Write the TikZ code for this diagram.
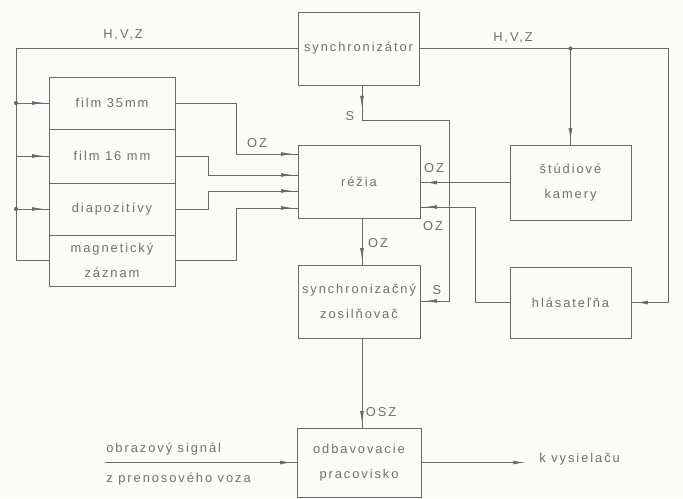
\documentclass[tikz,border=0pt]{standalone}
\usepackage{fontspec}
\newfontfamily\technicke[LetterSpace=15]{Liberation Sans}
\usepackage{tikz}
\usetikzlibrary{arrows.meta,decorations.markings}
\definecolor{ciara}{HTML}{6A6A6A}
\definecolor{pismo}{HTML}{707070}
\definecolor{papier}{HTML}{FBFBF9}
\tikzset{hrot/.tip={Latex[length=10pt,width=3.2pt]}}

\begin{document}
\begin{tikzpicture}[x=0.03cm, y=-0.03cm,
  blok/.style={draw=ciara, line width=0.7pt, inner sep=0pt,
    minimum width=3.66cm, minimum height=2.2cm, align=center,
    text=pismo, font=\technicke\fontsize{11}{21}\selectfont},
  spoj/.style={ciara, line width=0.7pt},
  sipka/.style={spoj, postaction={decorate},
    decoration={markings, mark=at position -4pt with {\arrow{hrot}}}},
  popis/.style={text=pismo, font=\technicke\fontsize{11}{13}\selectfont, inner sep=1pt}
]
  \useasboundingbox (0,0) rectangle (683,498);
  \fill[papier] (0,0) rectangle (683,498);

  % bloky
  \node[blok, minimum width=3.63cm, minimum height=2.19cm] (sync) at (358.5,48.5) {synchronizátor};
  \node[blok] (rezia) at (359,182) {réžia};
  \node[blok, minimum height=2.19cm] (zos) at (359,301.5) {synchronizačný\\zosilňovač};
  \node[blok, minimum width=3.72cm, minimum height=2.07cm] (odb) at (359,462.5) {odbavovacie\\pracovisko};
  \node[blok, minimum width=3.63cm, minimum height=2.25cm] (kam) at (570.5,182.5) {štúdiové\\kamery};
  \node[blok, minimum width=3.63cm, minimum height=2.13cm] (hlas) at (570.5,302.5) {hlásateľňa};

  \node[blok, minimum width=3.78cm, minimum height=1.56cm] (f35) at (112,103) {film 35mm};
  \node[blok, minimum width=3.78cm, minimum height=1.62cm] (f16) at (112,156) {film 16 mm};
  \node[blok, minimum width=3.78cm, minimum height=1.56cm] (diap) at (112,209) {diapozitívy};
  \node[blok, minimum width=3.78cm, minimum height=1.53cm] (mag) at (112,260.5) {magnetický\\záznam};

  % H,V,Z
  \coordinate (hvzL) at (16,48.5);
  \coordinate (hvzR) at (668,48.5);
  \draw[spoj] (sync.west) -- (hvzL) |- (mag.west);
  \foreach \blk in {f35,f16,diap}
    \draw[sipka] (hvzL |- \blk.west) -- (\blk.west);
  \foreach \blk in {f35,diap}
    \fill[ciara] (hvzL |- \blk.west) circle (1.8pt);
  \draw[sipka] (sync.east) -- (hvzR) |- (hlas.east);
  \fill[ciara] (kam.north |- hvzR) circle (1.8pt);
  \draw[sipka] (kam.north |- hvzR) -- (kam.north);

  % OZ do rezie
  \draw[sipka] (f35.east) -| (236,154) -- (rezia.west |- 0,154);
  \draw[sipka] (f16.east) -| (208,175) -- (rezia.west |- 0,175);
  \draw[sipka] (diap.east) -| (208,191) -- (rezia.west |- 0,191);
  \draw[sipka] (mag.east) -| (236,208) -- (rezia.west |- 0,208);
  \draw[sipka] (kam.west) -- (rezia.east |- kam.west);
  \draw[sipka] (hlas.west) -| (475,207) -- (rezia.east |- 0,207);

  % S
  \draw[spoj, postaction={decorate}, decoration={markings,
      mark=at position 19pt with {\arrow{hrot}},
      mark=at position -4pt with {\arrow{hrot}}}]
    (sync.south -| 362,0) -- (362,120) -| (449,301) -- (zos.east |- 0,301);

  \draw[sipka] (rezia.south -| 362,0) -- (zos.north -| 362,0);
  \draw[sipka] (zos.south -| 362,0) -- (odb.north -| 362,0);

  \coordinate (vstup) at (105,462.5);
  \coordinate (vystup) at (525,462.5);
  \draw[sipka] (vstup) -- (odb.west);
  \draw[spoj, -hrot] (odb.east) -- (vystup);

  % popisy
  \node[popis] (hvz1) at (123,35) {H,V,Z};
  \node[popis] (hvz2) at (513,38) {H,V,Z};
  \node[popis] (s1) at (350,116) {S};
  \node[popis] (oz1) at (257,143) {OZ};
  \node[popis] (oz2) at (434,168) {OZ};
  \node[popis] (oz3) at (433,226) {OZ};
  \node[popis] (oz4) at (378,243) {OZ};
  \node[popis] (s2) at (437,290) {S};
  \node[popis] (osz) at (381,412) {OSZ};
  \node[popis, anchor=west] (obr) at (105,449) {obrazový signál};
  \node[popis, anchor=west] (voz) at (105,479) {z prenosového voza};
  \node[popis, anchor=west] (vys) at (538,459) {k vysielaču};
\end{tikzpicture}
\end{document}
